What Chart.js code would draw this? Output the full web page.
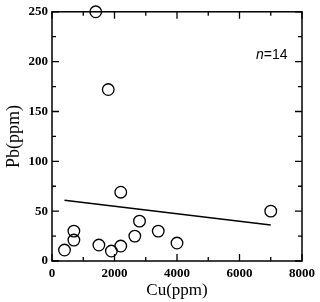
<!DOCTYPE html>
<html>
<head>
<meta charset="utf-8">
<script src="https://cdn.jsdelivr.net/npm/chart.js@4.4.1/dist/chart.umd.min.js"></script>
<style>
  body { margin: 0; background: #fff; }
  #wrap { position: relative; width: 320px; height: 302px; }
  #nlabel { position: absolute; left: 256px; top: 46px; font: 14px "Liberation Sans", Arial, sans-serif; color: #000; }
</style>
</head>
<body>
<div id="wrap">
  <canvas id="chartOne" width="320" height="302"></canvas>
  <div id="nlabel"><i>n</i>=14</div>
</div>
<script>
// data
let cuValues = [1400, 1800, 2200, 7000, 2800, 3400, 2650, 700, 700, 400, 1500, 1900, 2200, 4000];
let pbValues = [250, 172, 69, 50, 40, 30, 25, 30, 21, 11, 16, 10, 15, 18];
let fitCu = [400, 7000];
let fitPb = [61, 36];

let points = cuValues.map(function(c, i) { return {x: c, y: pbValues[i]}; });
let fitLine = fitCu.map(function(c, i) { return {x: c, y: fitPb[i]}; });

// frame + inward ticks on all 4 sides
let frameTicks = {
    id: 'frameTicks',
    afterDraw: function(chart) {
        let c = chart.ctx;
        let a = chart.chartArea;
        let xs = chart.scales.x, ys = chart.scales.y;
        c.save();
        c.strokeStyle = '#000';
        c.lineWidth = 1.5;
        c.strokeRect(a.left, a.top, a.right - a.left, a.bottom - a.top);
        c.lineWidth = 1.3;
        c.beginPath();
        let xt = xs.ticks.map(t => t.value);
        for (let i = 0; i < xt.length; i++) {
            let px = xs.getPixelForValue(xt[i]);
            c.moveTo(px, a.bottom); c.lineTo(px, a.bottom - 7);
            c.moveTo(px, a.top); c.lineTo(px, a.top + 7);
            if (i < xt.length - 1) {
                let mx = xs.getPixelForValue((xt[i] + xt[i + 1]) / 2);
                c.moveTo(mx, a.bottom); c.lineTo(mx, a.bottom - 4);
                c.moveTo(mx, a.top); c.lineTo(mx, a.top + 4);
            }
        }
        let yt = ys.ticks.map(t => t.value);
        for (let i = 0; i < yt.length; i++) {
            let py = ys.getPixelForValue(yt[i]);
            c.moveTo(a.left, py); c.lineTo(a.left + 7, py);
            c.moveTo(a.right, py); c.lineTo(a.right - 7, py);
            if (i < yt.length - 1) {
                let my = ys.getPixelForValue((yt[i] + yt[i + 1]) / 2);
                c.moveTo(a.left, my); c.lineTo(a.left + 4, my);
                c.moveTo(a.right, my); c.lineTo(a.right - 4, my);
            }
        }
        c.stroke();
        c.restore();
    }
};

let serif = '"Liberation Serif", "Times New Roman", serif';

var ctx = document.getElementById('chartOne').getContext('2d');
var chartOne = new Chart(ctx, {
    type: 'scatter',
    data: {
        datasets: [{
            label: 'samples',
            data: points,
            pointStyle: 'circle',
            pointRadius: 5.8,
            borderColor: '#000',
            backgroundColor: 'rgba(0,0,0,0)',
            borderWidth: 1.3,
            clip: false
        }, {
            label: 'fit',
            data: fitLine,
            showLine: true,
            pointRadius: 0,
            borderColor: '#000',
            borderWidth: 1.5
        }]
    },
    options: {
        responsive: false,
        animation: false,
        layout: { padding: { top: 9, right: 16, left: 0, bottom: 0 } },
        plugins: { legend: { display: false }, tooltip: { enabled: false } },
        scales: {
            x: {
                type: 'linear',
                min: 0, max: 8000,
                afterFit: function(s) { s.height = 41; },
                grid: { display: false, drawTicks: false },
                border: { display: false },
                ticks: {
                    stepSize: 2000, color: '#000', padding: 5, maxRotation: 0,
                    callback: function(v) { return String(v); },
                    font: { family: serif, size: 13, weight: 'bold' }
                },
                title: { display: true, text: 'Cu(ppm)', color: '#000', padding: { top: 0, bottom: 1 }, font: { family: serif, size: 17 } }
            },
            y: {
                type: 'linear',
                min: 0, max: 250,
                afterFit: function(s) { s.width = 52; },
                grid: { display: false, drawTicks: false },
                border: { display: false },
                ticks: {
                    stepSize: 50, color: '#000', padding: 4,
                    callback: function(v) { return String(v); },
                    font: { family: serif, size: 13, weight: 'bold' }
                },
                title: { display: true, text: 'Pb(ppm)', color: '#000', padding: { top: 3, bottom: 0 }, font: { family: serif, size: 18 } }
            }
        }
    },
    plugins: [frameTicks]
});
</script>
</body>
</html>
